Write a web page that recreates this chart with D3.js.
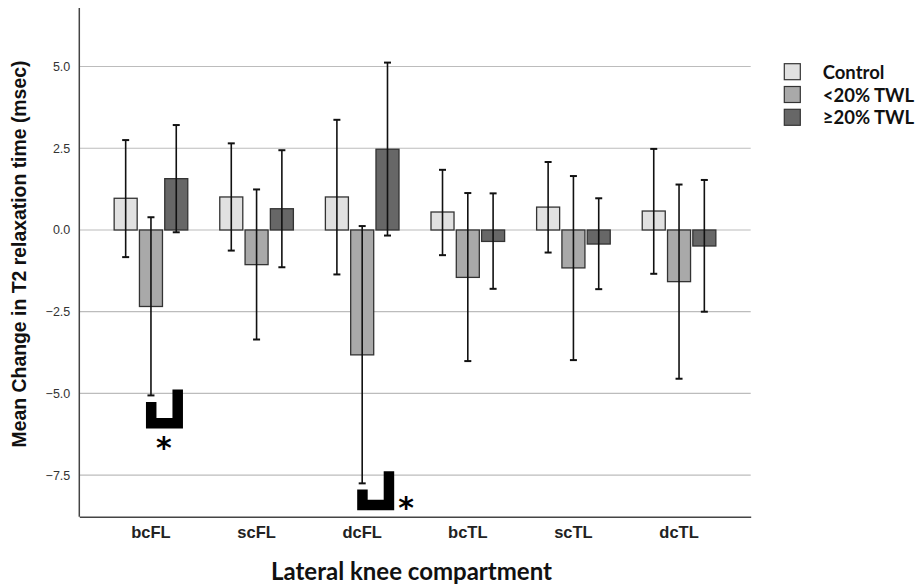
<!DOCTYPE html>
<html>
<head>
<meta charset="utf-8">
<script src="https://cdn.jsdelivr.net/npm/d3@7"></script>
<style>
  body { margin: 0; background: #fff; }
  svg { display: block; }
  .arial { font-family: "Liberation Sans", Arial, Helvetica, sans-serif; }
  .cal { font-family: Lato, "Open Sans", sans-serif; }
</style>
</head>
<body>
<svg id="chart" width="916" height="588"></svg>
<script>
// compartments and groups
const categories = ["bcFL", "scFL", "dcFL", "bcTL", "scTL", "dcTL"];
const groups = ["Control", "<20% TWL", "≥20% TWL"];
const groupColors = ["#e1e1e1", "#a9a9a9", "#676767"];

// mean change per group (same order as categories)
const controlMean = [0.97, 1.01, 1.01, 0.55, 0.70, 0.58];
const lowMean     = [-2.34, -1.06, -3.82, -1.45, -1.16, -1.58];
const highMean    = [1.57, 0.65, 2.47, -0.35, -0.43, -0.49];

// error bar ends (low, high)
const controlLo = [-0.83, -0.63, -1.36, -0.77, -0.69, -1.34];
const controlHi = [2.75, 2.65, 3.37, 1.84, 2.08, 2.48];
const lowLo     = [-5.06, -3.35, -7.75, -4.01, -3.98, -4.55];
const lowHi     = [0.39, 1.24, 0.12, 1.13, 1.65, 1.39];
const highLo    = [-0.07, -1.14, -0.17, -1.80, -1.81, -2.50];
const highHi    = [3.21, 2.44, 5.12, 1.12, 0.97, 1.53];

const yTicks = [-7.5, -5.0, -2.5, 0.0, 2.5, 5.0];

// significance brackets: category, left leg top, right leg top, bottom (data units)
const sigCats   = ["bcFL", "dcFL"];
const sigLeft   = [-5.26, -7.94];
const sigRight  = [-4.88, -7.38];
const sigBottom = [-6.07, -8.57];

const svg = d3.select("#chart");

const plotLeft = 79.3, plotRight = 750.7, plotTop = 8, plotBottom = 516.7;

const y = d3.scaleLinear()
  .domain([-8.77, 6.79])
  .range([plotBottom, plotTop]);

const x = d3.scaleBand()
  .domain(categories)
  .range([plotLeft, plotRight])
  .paddingInner(0.303)
  .paddingOuter(0.33);

const xSub = d3.scaleBand()
  .domain(groups)
  .range([0, x.bandwidth()])
  .paddingInner(0.09);

// gridlines
svg.append("g")
  .selectAll("line")
  .data(yTicks)
  .join("line")
  .attr("x1", plotLeft)
  .attr("x2", plotRight)
  .attr("y1", d => y(d))
  .attr("y2", d => y(d))
  .attr("stroke", "#bcbcbc")
  .attr("stroke-width", 1.2);

// y axis
const yAxis = d3.axisLeft(y)
  .tickValues(yTicks)
  .tickFormat(d3.format(".1f"))
  .tickSize(0)
  .tickPadding(9);

const yg = svg.append("g")
  .attr("transform", "translate(" + plotLeft + ",0)")
  .call(yAxis)
  .attr("font-family", null)
  .attr("font-size", null);
yg.select(".domain").remove();
yg.selectAll("text")
  .attr("class", "arial")
  .style("font-size", "12.5px")
  .attr("fill", "#333");

// build rows
const rows = [];
categories.forEach((c, i) => {
  rows.push({ cat: c, group: groups[0], color: groupColors[0], v: controlMean[i], lo: controlLo[i], hi: controlHi[i] });
  rows.push({ cat: c, group: groups[1], color: groupColors[1], v: lowMean[i], lo: lowLo[i], hi: lowHi[i] });
  rows.push({ cat: c, group: groups[2], color: groupColors[2], v: highMean[i], lo: highLo[i], hi: highHi[i] });
});

// bars
svg.append("g")
  .selectAll("rect")
  .data(rows)
  .join("rect")
  .attr("x", d => x(d.cat) + xSub(d.group))
  .attr("width", xSub.bandwidth())
  .attr("y", d => y(Math.max(0, d.v)))
  .attr("height", d => Math.abs(y(d.v) - y(0)))
  .attr("fill", d => d.color)
  .attr("stroke", "#333")
  .attr("stroke-width", 1.3);

// error bars
const cx = d => x(d.cat) + xSub(d.group) + xSub.bandwidth() / 2;
const eb = svg.append("g").attr("stroke", "#111");
eb.selectAll("line.v")
  .data(rows)
  .join("line")
  .attr("class", "v")
  .attr("x1", cx).attr("x2", cx)
  .attr("y1", d => y(d.lo)).attr("y2", d => y(d.hi))
  .attr("stroke-width", 1.6);
eb.selectAll("line.capHi")
  .data(rows)
  .join("line")
  .attr("class", "capHi")
  .attr("x1", d => cx(d) - 3.5).attr("x2", d => cx(d) + 3.5)
  .attr("y1", d => y(d.hi)).attr("y2", d => y(d.hi))
  .attr("stroke-width", 2);
eb.selectAll("line.capLo")
  .data(rows)
  .join("line")
  .attr("class", "capLo")
  .attr("x1", d => cx(d) - 3.5).attr("x2", d => cx(d) + 3.5)
  .attr("y1", d => y(d.lo)).attr("y2", d => y(d.lo))
  .attr("stroke-width", 2);

// axis lines
svg.append("line")
  .attr("x1", plotLeft).attr("x2", plotLeft)
  .attr("y1", plotTop).attr("y2", plotBottom)
  .attr("stroke", "#444").attr("stroke-width", 1.5);

const xAxis = d3.axisBottom(x).tickSize(0).tickPadding(10);
const xg = svg.append("g")
  .attr("transform", "translate(0," + plotBottom + ")")
  .call(xAxis)
  .attr("font-family", null)
  .attr("font-size", null);
xg.select(".domain")
  .attr("stroke", "#444").attr("stroke-width", 1.5);
xg.selectAll("text")
  .attr("class", "arial")
  .style("font-weight", "bold")
  .style("font-size", "16.5px")
  .attr("fill", "#222");

// significance brackets
const legW = 10.5, brW = 37;
sigCats.forEach((c, i) => {
  const x0 = x(c) + xSub("<20% TWL") + xSub.bandwidth() / 2 - 5;
  const x1 = x0 + brW;
  const yb = y(sigBottom[i]);
  const p = d3.path();
  p.moveTo(x0, y(sigLeft[i]));
  p.lineTo(x0, yb);
  p.lineTo(x1, yb);
  p.lineTo(x1, y(sigRight[i]));
  p.lineTo(x1 - legW, y(sigRight[i]));
  p.lineTo(x1 - legW, yb - legW);
  p.lineTo(x0 + legW, yb - legW);
  p.lineTo(x0 + legW, y(sigLeft[i]));
  p.closePath();
  svg.append("path").attr("d", p.toString()).attr("fill", "#000");

  const star = svg.append("text")
    .text("*")
    .style("font-family", "'DejaVu Sans', sans-serif")
    .style("font-weight", "bold")
    .style("font-size", "30px")
    .attr("text-anchor", "middle")
    .attr("fill", "#000");
  if (i === 0) {
    star.attr("x", x0 + 18).attr("y", yb + 30);
  } else {
    star.attr("x", x1 + 12).attr("y", yb + 8);
  }
});

// axis titles
svg.append("text")
  .attr("class", "arial")
  .attr("transform", "translate(26,254) rotate(-90)")
  .attr("text-anchor", "middle")
  .style("font-weight", "bold")
  .style("font-size", "19.4px")
  .attr("fill", "#111")
  .text("Mean Change in T2 relaxation time (msec)");

svg.append("text")
  .attr("class", "cal")
  .attr("x", 411.5)
  .attr("y", 580)
  .attr("text-anchor", "middle")
  .style("font-weight", "bold")
  .style("font-size", "24px")
  .attr("fill", "#111")
  .text("Lateral knee compartment");

// legend
const legend = svg.append("g").attr("transform", "translate(784.3,63.7)");
const li = legend.selectAll("g")
  .data(groups)
  .join("g")
  .attr("transform", (d, i) => "translate(0," + (i * 22.8) + ")");
li.append("rect")
  .attr("width", 16).attr("height", 16)
  .attr("fill", (d, i) => groupColors[i])
  .attr("stroke", "#333").attr("stroke-width", 1.2);
li.append("text")
  .attr("class", "cal")
  .attr("x", 38.4)
  .attr("y", 8)
  .attr("dominant-baseline", "central")
  .style("font-weight", "bold")
  .style("font-size", "18.5px")
  .attr("fill", "#111")
  .text(d => d);
</script>
</body>
</html>
